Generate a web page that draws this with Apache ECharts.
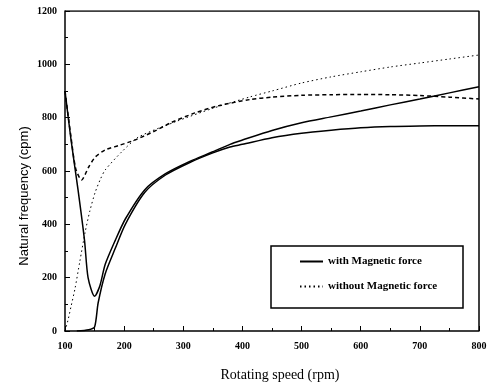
<!DOCTYPE html>
<html>
<head>
<meta charset="utf-8">
<script src="https://cdn.jsdelivr.net/npm/echarts@6/dist/echarts.min.js"></script>
<style>
  html, body { margin: 0; padding: 0; background: #fff; }
  #chart { width: 490px; height: 386px; }
</style>
</head>
<body>
<div id="chart"></div>
<script>
var myChart = echarts.init(document.getElementById('chart'));

// with magnetic force, branch that dips at ~150 rpm
var withUpperX = [100, 110, 122, 133, 139, 150, 159, 168, 185, 202, 235, 270, 311, 350, 379, 400, 450, 500, 550, 600, 650, 700, 750, 800];
var withUpperY = [900, 720, 530, 340, 200, 130, 170, 250, 340, 420, 530, 590, 636, 672, 700, 716, 752, 781, 803, 825, 848, 870, 893, 916];
// with magnetic force, branch starting from zero
var withLowerX = [120, 140, 150, 156, 168, 185, 202, 235, 270, 311, 350, 379, 400, 450, 500, 550, 600, 650, 700, 750, 800];
var withLowerY = [0, 5, 15, 105, 215, 310, 400, 520, 585, 632, 668, 690, 700, 725, 742, 753, 762, 767, 769, 770, 770];
// without magnetic force, dashed branch
var withoutUpperX = [100, 110, 118, 128, 140, 151, 168, 190, 218, 250, 280, 320, 360, 413, 450, 500, 550, 600, 650, 700, 750, 800];
var withoutUpperY = [900, 730, 610, 566, 615, 652, 679, 695, 716, 748, 782, 818, 845, 868, 877, 884, 886, 887, 886, 883, 877, 870];
// without magnetic force, dotted branch
var withoutLowerX = [100, 105, 110, 117, 125, 134, 142, 151, 160, 168, 196, 224, 286, 350, 413, 450, 500, 550, 600, 650, 700, 750, 800];
var withoutLowerY = [0, 40, 90, 160, 260, 370, 450, 520, 570, 604, 672, 727, 784, 835, 878, 900, 930, 953, 972, 990, 1005, 1020, 1035];

var yTicks = [0, 200, 400, 600, 800, 1000, 1200];

function pairs(xs, ys) {
  return xs.map(function (x, i) { return [x, ys[i]]; });
}

var labelFont = { color: '#000', fontFamily: 'Liberation Serif', fontSize: 10, fontWeight: 'bold' };

var option = {
  animation: false,
  backgroundColor: '#fff',
  color: ['#000'],
  grid: { left: 65, right: 11, top: 11, bottom: 55 },
  legend: {
    left: 294,
    top: 251,
    orient: 'vertical',
    itemWidth: 23,
    itemHeight: 10,
    itemGap: 14,
    itemStyle: { opacity: 0 },
    data: ['with Magnetic force', 'without Magnetic force'],
    textStyle: { color: '#000', fontFamily: 'Liberation Serif', fontSize: 11, fontWeight: 'bold' }
  },
  graphic: [
    {
      type: 'rect',
      shape: { x: 271, y: 246, width: 192, height: 62 },
      style: { fill: 'none', stroke: '#000', lineWidth: 1.5 },
      z: 10
    },
    {
      type: 'text', x: 24, y: 196, rotation: Math.PI / 2,
      style: {
        text: 'Natural frequency (cpm)', fill: '#000',
        font: '13px "Liberation Sans"', align: 'center', verticalAlign: 'middle'
      }
    },
    {
      type: 'text', x: 280, y: 375,
      style: {
        text: 'Rotating speed (rpm)', fill: '#000',
        font: '14px "Liberation Serif"', align: 'center', verticalAlign: 'middle'
      }
    }
  ],
  xAxis: {
    type: 'value',
    min: 100,
    max: 800,
    interval: 100,
    axisLine: { onZero: false, lineStyle: { color: '#000', width: 1.5 } },
    axisTick: { inside: true, length: 5, lineStyle: { color: '#000' } },
    minorTick: { show: true, splitNumber: 2, length: 3, lineStyle: { color: '#000' } },
    axisLabel: Object.assign({ margin: 10, formatter: function (v) { return String(v); } }, labelFont),
    splitLine: { show: false }
  },
  yAxis: {
    type: 'value',
    min: yTicks[0],
    max: yTicks[yTicks.length - 1],
    interval: 200,
    axisLine: { lineStyle: { color: '#000', width: 1.5 } },
    axisTick: { inside: true, length: 5, lineStyle: { color: '#000' } },
    minorTick: { show: true, splitNumber: 2, length: 3, lineStyle: { color: '#000' } },
    axisLabel: Object.assign({ margin: 8, formatter: function (v) { return String(v); } }, labelFont),
    splitLine: { show: false }
  },
  series: [
    {
      name: 'with Magnetic force', type: 'line', showSymbol: false, symbol: 'none', smooth: 0.25,
      lineStyle: { color: '#000', width: 1.5, type: 'solid' },
      data: pairs(withUpperX, withUpperY)
    },
    {
      name: 'with Magnetic force', type: 'line', showSymbol: false, symbol: 'none', smooth: 0.25,
      lineStyle: { color: '#000', width: 1.5, type: 'solid' },
      data: pairs(withLowerX, withLowerY)
    },
    {
      name: 'without Magnetic force', type: 'line', showSymbol: false, symbol: 'none', smooth: 0.25,
      lineStyle: { color: '#000', width: 1, type: [1.5, 3] },
      data: pairs(withoutLowerX, withoutLowerY)
    },
    {
      name: 'without Magnetic force', type: 'line', showSymbol: false, symbol: 'none', smooth: 0.25,
      lineStyle: { color: '#000', width: 1.5, type: [4, 3] },
      data: pairs(withoutUpperX, withoutUpperY)
    },
    // frame: top and right edges of the plot box
    {
      type: 'line', showSymbol: false, symbol: 'none', silent: true,
      lineStyle: { color: '#000', width: 1.5 },
      data: [[100, 1200], [800, 1200], [800, 0]]
    }
  ]
};

myChart.setOption(option);
</script>
</body>
</html>
